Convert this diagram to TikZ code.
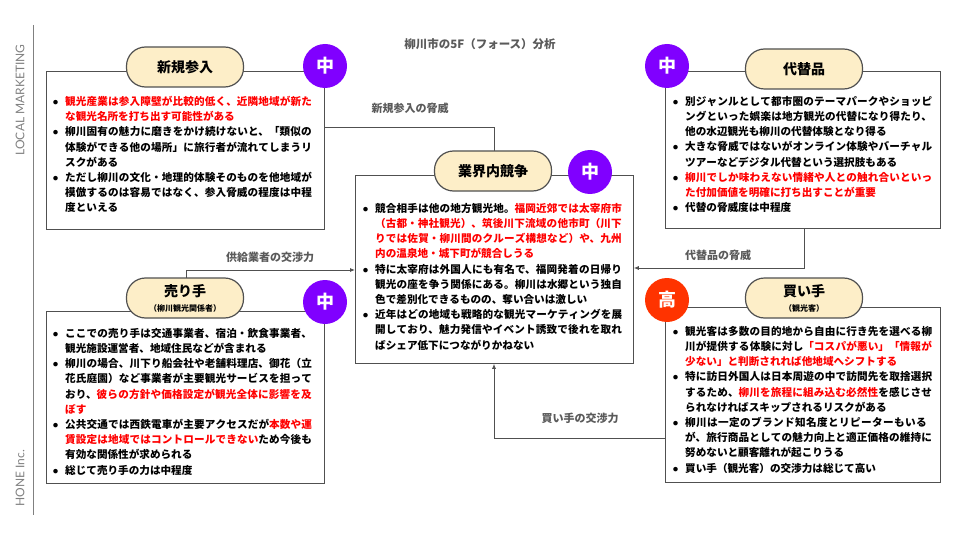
\documentclass[tikz,border=0pt]{standalone}
\usepackage{fontspec}
\setmainfont{Noto Sans CJK JP}
\newfontfamily\latinf{Lato}
\usetikzlibrary{arrows.meta}
\XeTeXlinebreaklocale "ja"
\XeTeXlinebreakskip=0pt plus 1pt
\definecolor{pill}{RGB}{253,238,200}
\definecolor{purp}{RGB}{128,0,255}
\definecolor{hiorg}{RGB}{255,51,0}
\definecolor{linec}{RGB}{80,80,80}
\definecolor{labc}{RGB}{90,90,90}
\newcommand{\itm}[1]{{\lineskiplimit=-20pt\hangindent=12pt\hangafter=1\noindent\makebox[12pt][l]{\raisebox{1pt}{\tiny●}}#1\par}}
\tikzset{
 box/.style={draw=linec, line width=0.8pt, anchor=north west, inner sep=0pt},
 txt/.style={anchor=north west, text width=#1, align=left, font=\fontsize{10.6}{15.2}\selectfont\bfseries, inner sep=0pt},
 pillbox/.style={draw=linec, line width=1.2pt, fill=pill, rounded corners=19pt, minimum width=117pt, minimum height=40pt, align=center, font=\fontsize{14}{16}\selectfont\bfseries},
 badge/.style={circle, fill=purp, minimum size=44pt, inner sep=0pt, text=white, font=\fontsize{18}{18}\selectfont\bfseries},
 conn/.style={draw=linec, line width=0.8pt, -{Latex[length=5pt,width=4pt]}},
 clabel/.style={text=labc, font=\fontsize{11}{13}\selectfont\bfseries}
}
\begin{document}
\begin{tikzpicture}[x=1pt,y=-1pt]
\useasboundingbox (0,0) rectangle (960,540);
% side
\draw[color=gray, line width=0.8pt] (33,25) -- (33,515);
\node[rotate=90, text=gray, font=\latinf\fontsize{12}{12}\selectfont] (lm) at (20,100) {LOCAL MARKETING};
\node[rotate=90, text=gray, font=\latinf\fontsize{12}{12}\selectfont] (hi) at (20,478) {HONE Inc.};
\node[text=labc, font=\fontsize{11.5}{13}\selectfont\bfseries] (title) at (480,44) {柳川市の5F（フォース）分析};

% boxes
\node[box, minimum width=278pt, minimum height=158pt] (nb) at (46,71) {};
\node[box, minimum width=275pt, minimum height=157pt] (sb) at (665,71) {};
\node[box, minimum width=278pt, minimum height=188pt] (cb) at (355,175) {};
\node[box, minimum width=278pt, minimum height=172pt] (sl) at (46,311) {};
\node[box, minimum width=275pt, minimum height=175pt] (by) at (665,307) {};

% connectors
\coordinate (c1) at (494,127);
\draw[conn] (nb.north east |- c1) -- (c1) -- (cb.north -| c1);
\node[clabel] (l1) at (410,108) {新規参入の脅威};
\coordinate (c2) at (804,268);
\draw[conn] (sb.south -| c2) -- (c2) -- (cb.east |- c2);
\node[clabel] (l2) at (718,255) {代替品の脅威};
\coordinate (c3) at (186,270);
\draw[conn] (sl.north -| c3) -- (c3) -- (cb.west |- c3);
\node[clabel] (l3) at (270,257) {供給業者の交渉力};
\coordinate (c4) at (494,438);
\draw[conn] (by.west |- c4) -- (c4) -- (cb.south -| c4);
\node[clabel] (l4) at (580,418) {買い手の交渉力};

% pills and badges
\node[pillbox] (p1) at (185,67) {新規参入};
\node[badge] (b1) at (325,66) {中};
\node[pillbox] (p2) at (804,69) {代替品};
\node[badge] (b2) at (667,66) {中};
\node[pillbox] (p3) at (493,171) {業界内競争};
\node[badge] (b3) at (590,172) {中};
\node[pillbox] (p4) at (185,298) {売り手\\[-1pt]{\fontsize{8}{9}\selectfont （柳川観光関係者）}};
\node[badge] (b4) at (325,302) {中};
\node[pillbox] (p5) at (804,298) {買い手\\[-1pt]{\fontsize{8}{9}\selectfont （観光客）}};
\node[badge, fill=hiorg] (b5) at (667,300) {高};

% texts
\node[txt=262pt] (t1) at (53,96) {%
\itm{\color{red}観光産業は参入障壁が比較的低く、近隣地域が新たな観光名所を打ち出す可能性がある}
\itm{柳川固有の魅力に磨きをかけ続けないと、「類似の体験ができる他の場所」に旅行者が流れてしまうリスクがある}
\itm{ただし柳川の文化・地理的体験そのものを他地域が模倣するのは容易ではなく、参入脅威の程度は中程度といえる}};

\node[txt=262pt] (t2) at (673,96) {%
\itm{別ジャンルとして都市圏のテーマパークやショッピングといった娯楽は地方観光の代替になり得たり、他の水辺観光も柳川の代替体験となり得る}
\itm{大きな脅威ではないがオンライン体験やバーチャルツアーなどデジタル代替という選択肢もある}
\itm{\color{red}柳川でしか味わえない情緒や人との触れ合いといった付加価値を明確に打ち出すことが重要}
\itm{代替の脅威度は中程度}};

\node[txt=262pt] (t3) at (363,203) {%
\itm{競合相手は他の地方観光地。{\color{red}福岡近郊では太宰府市（古都・神社観光）、筑後川下流域の他市町（川下りでは佐賀・柳川間のクルーズ構想など）や、九州内の温泉地・城下町が競合しうる}}
\itm{特に太宰府は外国人にも有名で、福岡発着の日帰り観光の座を争う関係にある。柳川は水郷という独自色で差別化できるものの、奪い合いは激しい}
\itm{近年はどの地域も戦略的な観光マーケティングを展開しており、魅力発信やイベント誘致で後れを取ればシェア低下につながりかねない}};

\node[txt=262pt] (t4) at (53,328) {%
\itm{ここでの売り手は交通事業者、宿泊・飲食事業者、観光施設運営者、地域住民などが含まれる}
\itm{柳川の場合、川下り船会社や老舗料理店、御花（立花氏庭園）など事業者が主要観光サービスを担っており、{\color{red}彼らの方針や価格設定が観光全体に影響を及ぼす}}
\itm{公共交通では西鉄電車が主要アクセスだが{\color{red}本数や運賃設定は地域ではコントロールできない}ため今後も有効な関係性が求められる}
\itm{総じて売り手の力は中程度}};

\node[txt=262pt] (t5) at (673,326) {%
\itm{観光客は多数の目的地から自由に行き先を選べる柳川が提供する体験に対し{\color{red}「コスパが悪い」「情報が少ない」と判断されれば他地域へシフトする}}
\itm{特に訪日外国人は日本周遊の中で訪問先を取捨選択するため、{\color{red}柳川を旅程に組み込む必然性}を感じさせられなければスキップされるリスクがある}
\itm{柳川は一定のブランド知名度とリピーターもいるが、旅行商品としての魅力向上と適正価格の維持に努めないと顧客離れが起こりうる}
\itm{買い手（観光客）の交渉力は総じて高い}};
\end{tikzpicture}
\end{document}
